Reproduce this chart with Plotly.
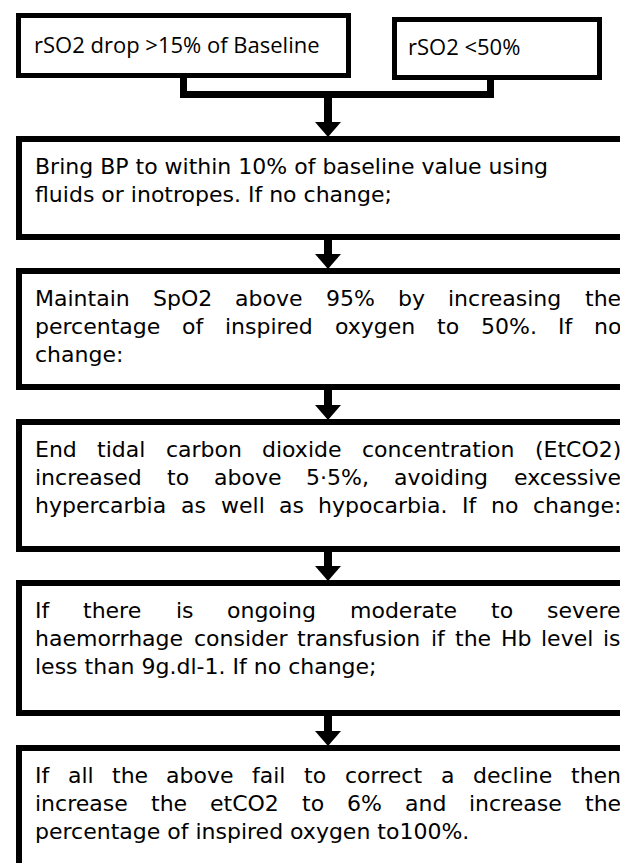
import plotly.graph_objects as go

W, H = 628, 863

# ---- content ----
top_left_text = "rSO2 drop >15% of Baseline"
top_right_text = "rSO2 <50%"

step_lines = [
    ["Bring BP to within 10% of baseline value using",
     "fluids or inotropes. If no change;"],
    ["Maintain SpO2 above 95% by increasing the",
     "percentage of inspired oxygen to 50%. If no",
     "change:"],
    ["End tidal carbon dioxide concentration (EtCO2)",
     "increased to above 5\u00b75%, avoiding excessive",
     "hypercarbia as well as hypocarbia. If no change:"],
    ["If there is ongoing moderate to severe",
     "haemorrhage consider transfusion if the Hb level is",
     "less than 9g.dl-1. If no change;"],
    ["If all the above fail to correct a decline then",
     "increase the etCO2 to 6% and increase the",
     "percentage of inspired oxygen to100%."],
]
step_justify = [
    [False, False],
    [True, True, False],
    [True, True, True],
    [True, True, False],
    [True, True, False],
]

# ---- layout geometry (pixels, y downwards) ----
step_tops = [128, 260, 411, 572, 737]
step_bottoms = [232, 382, 544, 708, 920]
BOX_L, BOX_R = 8, 700
BW = 6  # main border width
TXT_L, TXT_R = 27, 613
FS = 22
LINE0, LINE_DY = 30, 28

# DejaVu Sans advance widths (units of 2048)
DV = {' ': 651, '%': 1946, '(': 799, ')': 799, ',': 651, '-': 739, '.': 651,
      ':': 690, ';': 690, '<': 1716, '>': 1716, '\u00b7': 651,
      'A': 1401, 'B': 1405, 'C': 1430, 'D': 1577, 'E': 1294, 'F': 1178, 'G': 1587,
      'H': 1540, 'I': 604, 'J': 604, 'K': 1343, 'L': 1141, 'M': 1767, 'N': 1532,
      'O': 1612, 'P': 1235, 'Q': 1612, 'R': 1423, 'S': 1300, 'T': 1251, 'U': 1499,
      'V': 1401, 'W': 2025, 'X': 1403, 'Y': 1251, 'Z': 1403,
      'a': 1255, 'b': 1300, 'c': 1126, 'd': 1300, 'e': 1260, 'f': 721, 'g': 1300,
      'h': 1298, 'i': 569, 'j': 569, 'k': 1186, 'l': 569, 'm': 1995, 'n': 1298,
      'o': 1253, 'p': 1300, 'q': 1300, 'r': 842, 's': 1067, 't': 803, 'u': 1298,
      'v': 1212, 'w': 1675, 'x': 1212, 'y': 1212, 'z': 1075}
for d in '0123456789':
    DV[d] = 1303


def tw(s, fs=FS):
    return sum(DV.get(c, 1200) for c in s) / 2048.0 * fs


fig = go.Figure()
shapes = []
annotations = []


def rect(x0, y0, x1, y1, lw):
    h = lw / 2.0
    shapes.append(dict(type="rect", xref="x", yref="y", x0=x0 + h, x1=x1 - h,
                       y0=y0 + h, y1=y1 - h, line=dict(color="black", width=lw),
                       fillcolor="white", layer="below"))


def block(x0, y0, x1, y1):
    shapes.append(dict(type="rect", xref="x", yref="y", x0=x0, x1=x1, y0=y0, y1=y1,
                       line=dict(width=0), fillcolor="black", layer="below"))


def arrow(ytop, ytip, cx=320, stem=8, head_w=26, head_h=15):
    block(cx - stem / 2, ytop, cx + stem / 2, ytip - head_h + 0.5)
    shapes.append(dict(type="path", xref="x", yref="y",
                       path=f"M {cx-head_w/2},{ytip-head_h} L {cx+head_w/2},{ytip-head_h} L {cx},{ytip} Z",
                       line=dict(width=0), fillcolor="black", layer="below"))


def label(x, y, text, anchor, fnt):
    # borderpad 0 / borderwidth 0 so the text edge sits exactly at x
    annotations.append(dict(x=x, y=y, xref="x", yref="y", text=text, showarrow=False,
                            xanchor=anchor, yanchor="middle", borderpad=0, borderwidth=0,
                            font=fnt))


# top boxes
rect(8, 5, 343, 70, 5)
rect(384, 9, 594, 72, 5)
# connector
block(172, 68, 179, 90)
block(479, 70, 486, 90)
block(172, 83, 486, 90)
arrow(90, 129)

# main step boxes
for i, (t, b) in enumerate(zip(step_tops, step_bottoms)):
    rect(BOX_L, t, BOX_R, b, BW)
    if i > 0:
        arrow(step_bottoms[i - 1] - 1, t + 1)

# top box texts
top_font = dict(family="Open Sans", size=22, color="black")
label(26, 36, top_left_text, "left", top_font)
label(400, 38, top_right_text, "left", top_font)

# step texts
font = dict(family="DejaVu Sans", size=FS, color="black")
for i, lines in enumerate(step_lines):
    for j, line in enumerate(lines):
        y = step_tops[i] + LINE0 + j * LINE_DY
        if step_justify[i][j]:
            words = line.split(" ")
            widths = [tw(w) for w in words]
            gap = (TXT_R - TXT_L - sum(widths)) / (len(words) - 1)
            x = TXT_L
            for k, (wd, ww) in enumerate(zip(words, widths)):
                if k == len(words) - 1:
                    label(TXT_R, y, wd, "right", font)
                else:
                    label(x, y, wd, "left", font)
                x += ww + gap
        else:
            label(TXT_L, y, line, "left", font)

# faint right image edge
shapes.append(dict(type="line", xref="x", yref="y", x0=627.5, x1=627.5, y0=0, y1=H,
                   line=dict(color="#c4c4c4", width=1), layer="above"))

fig.update_layout(
    width=W, height=H, margin=dict(l=0, r=0, t=0, b=0),
    paper_bgcolor="white", plot_bgcolor="white",
    xaxis=dict(range=[0, W], visible=False, fixedrange=True),
    yaxis=dict(range=[H, 0], visible=False, fixedrange=True),
    shapes=shapes, annotations=annotations, showlegend=False,
)
fig.write_html("out.html")
